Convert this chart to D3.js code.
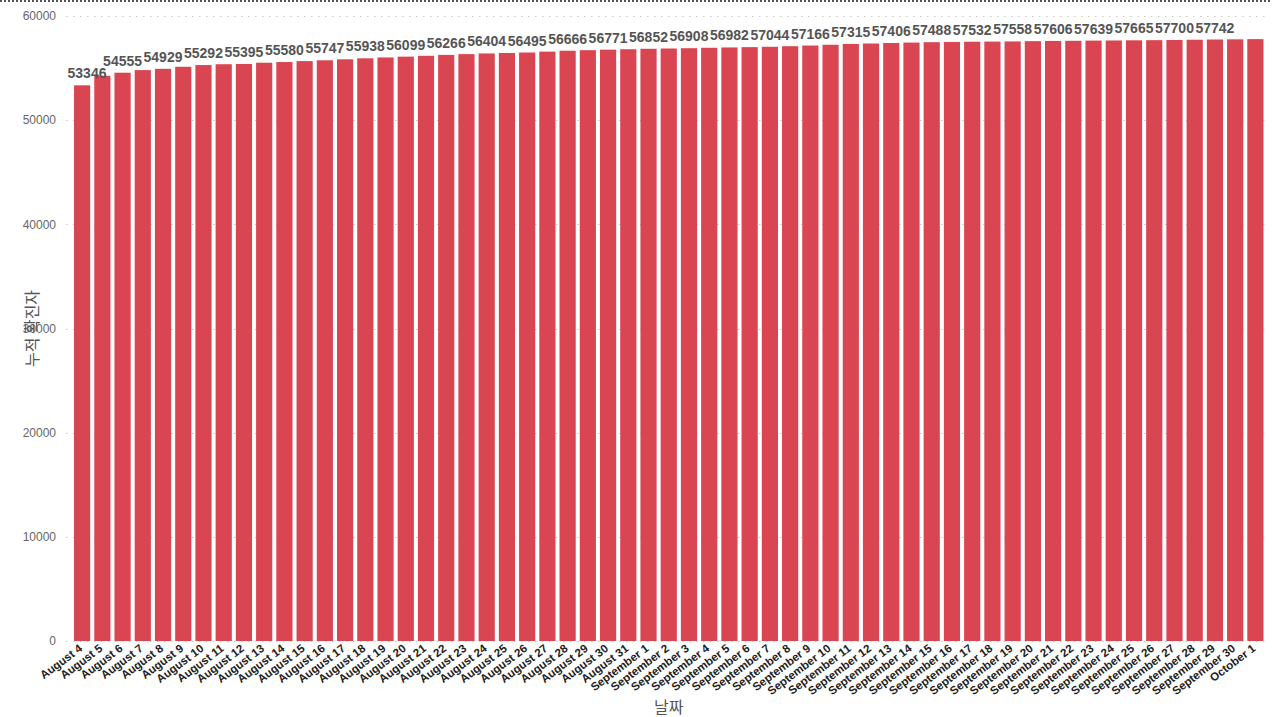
<!DOCTYPE html>
<html>
<head>
<meta charset="utf-8">
<script src="https://cdn.jsdelivr.net/npm/d3@7"></script>
<style>
  html, body { margin: 0; padding: 0; background: #fff; }
  svg { display: block; }
</style>
</head>
<body>
<svg id="chart" width="1272" height="717"></svg>
<script>
const categories = [
  "August 4","August 5","August 6","August 7","August 8","August 9","August 10","August 11",
  "August 12","August 13","August 14","August 15","August 16","August 17","August 18","August 19",
  "August 20","August 21","August 22","August 23","August 24","August 25","August 26","August 27",
  "August 28","August 29","August 30","August 31",
  "September 1","September 2","September 3","September 4","September 5","September 6","September 7",
  "September 8","September 9","September 10","September 11","September 12","September 13","September 14",
  "September 15","September 16","September 17","September 18","September 19","September 20","September 21",
  "September 22","September 23","September 24","September 25","September 26","September 27","September 28",
  "September 29","September 30","October 1"
];
const values = [
  53346, 54260, 54555, 54805, 54929, 55125, 55292, 55370,
  55395, 55515, 55580, 55670, 55747, 55840, 55938, 56020,
  56099, 56180, 56266, 56340, 56404, 56450, 56495, 56580,
  56666, 56720, 56771, 56810,
  56852, 56880, 56908, 56950, 56982, 57010, 57044,
  57100, 57166, 57240, 57315, 57360, 57406, 57450,
  57488, 57510, 57532, 57545, 57558, 57585, 57606,
  57620, 57639, 57650, 57665, 57680, 57700, 57720,
  57742, 57760, 57780
];
const yTicks = [0, 10000, 20000, 30000, 40000, 50000, 60000];
const yTitle = "누적 확진자";
const xTitle = "날짜";

const svg = d3.select("#chart");
const mLeft = 72, mRight = 1265.5, mTop = 16, mBottom = 641;

const x = d3.scaleBand().domain(categories).range([mLeft, mRight]).paddingInner(0.2).paddingOuter(0.1);
const y = d3.scaleLinear().domain([0, 60000]).range([mBottom, mTop]);

// top dotted border
svg.append("line").attr("x1", 0).attr("x2", 1272).attr("y1", 1).attr("y2", 1)
  .attr("stroke", "#555").attr("stroke-width", 2).attr("stroke-dasharray", "2,2");

// gridlines
svg.append("g").selectAll("line").data(yTicks).join("line")
  .attr("x1", 66).attr("x2", mRight)
  .attr("y1", d => Math.round(y(d)) + 0.5).attr("y2", d => Math.round(y(d)) + 0.5)
  .attr("stroke", "#c8c8c8").attr("stroke-width", 1).attr("stroke-dasharray", "1.5,5.5");

// y tick labels
svg.append("g").selectAll("text").data(yTicks).join("text")
  .attr("x", 56).attr("y", d => y(d)).attr("dy", "0.35em")
  .attr("text-anchor", "end")
  .attr("font-family", "'Liberation Sans', Arial, sans-serif")
  .attr("font-size", 12).attr("fill", "#666")
  .text(d => d);

// bars
svg.append("g").selectAll("rect").data(values).join("rect")
  .attr("x", (d, i) => x(categories[i]))
  .attr("width", x.bandwidth())
  .attr("y", d => y(d))
  .attr("height", d => y(0) - y(d))
  .attr("fill", "#D94550");

// data labels (every other bar)
svg.append("g").selectAll("text").data(values.map((v, i) => ({v, i})).filter(d => d.i % 2 === 0 && d.i < categories.length - 1))
  .join("text")
  .attr("x", d => Math.max(x(categories[d.i]) + x.bandwidth() / 2, 87))
  .attr("y", d => y(d.v) - 7)
  .attr("text-anchor", "middle")
  .attr("font-family", "'Liberation Sans', Arial, sans-serif")
  .attr("font-weight", "bold")
  .attr("font-size", 14).attr("fill", "#555")
  .text(d => d.v);

// x tick labels
svg.append("g").selectAll("text").data(categories).join("text")
  .attr("transform", d => `translate(${x(d) + x.bandwidth() / 2 + 1},${mBottom + 9}) rotate(-37)`)
  .attr("text-anchor", "end")
  .attr("font-family", "'Liberation Sans', Arial, sans-serif")
  .attr("font-weight", "bold")
  .attr("font-size", 11.5).attr("fill", "#222")
  .text(d => d);

// axis titles
svg.append("text")
  .attr("transform", `translate(38,${(mTop + mBottom) / 2}) rotate(-90)`)
  .attr("text-anchor", "middle")
  .attr("font-family", "'Noto Sans CJK KR', sans-serif")
  .attr("font-size", 16).attr("fill", "#555")
  .text(yTitle);

svg.append("text")
  .attr("x", (mLeft + mRight) / 2).attr("y", 713)
  .attr("text-anchor", "middle")
  .attr("font-family", "'Noto Sans CJK KR', sans-serif")
  .attr("font-size", 16).attr("fill", "#555")
  .text(xTitle);
</script>
</body>
</html>
